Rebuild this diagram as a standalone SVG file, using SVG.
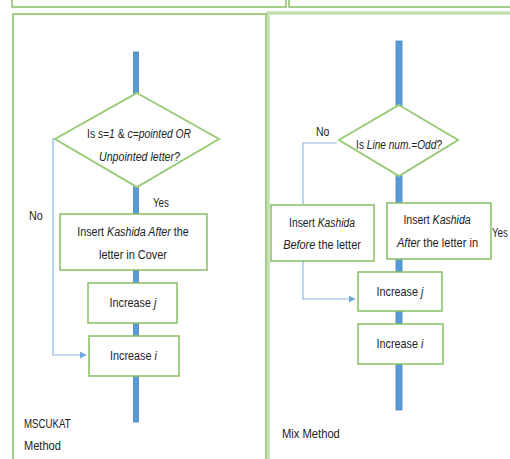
<svg xmlns="http://www.w3.org/2000/svg" width="510" height="459" viewBox="0 0 510 459">
<style>
text{font-family:"Liberation Sans",Arial,sans-serif;font-size:13.5px;fill:#222}
.m{text-anchor:middle}
.i{font-style:italic}
.panel{fill:none;stroke:#86BE63;stroke-width:1.5}
.box{fill:#fff;stroke:#86BE63;stroke-width:1.5}
.dia{fill:#fff;stroke:#9ACB78;stroke-width:2}
.bar{fill:#5B9BD5;stroke:#4A86BE;stroke-width:0.8}
.conn{fill:none;stroke:#8DB8E2;stroke-width:1.2}
</style>
<defs>
<marker id="ah" viewBox="0 0 10 10" refX="9" refY="5" markerWidth="7" markerHeight="7" orient="auto" markerUnits="userSpaceOnUse">
<path d="M0,0 L10,5 L0,10 z" fill="#6FA7DC"/>
</marker>
</defs>
<rect width="510" height="459" fill="#fff"/>
<g id="frames">
<rect class="panel" x="12" y="-10" width="274" height="17"/>
<rect class="panel" x="289" y="-10" width="240" height="17"/>
<rect class="panel" x="13" y="14" width="253" height="460"/>
<rect x="268" y="13" width="260" height="460" fill="none" stroke="#A9D18E" stroke-width="3"/>
<rect x="268" y="13" width="260" height="460" fill="none" stroke="#EAF4E2" stroke-width="0.8"/>
</g>
<g id="connectors">
<rect class="bar" x="133.5" y="52" width="5" height="370"/>
<rect class="bar" x="396" y="41" width="6" height="369"/>
<polyline class="conn" points="55,139 53,139 53,355 86,355" marker-end="url(#ah)"/>
<polyline class="conn" points="337,143 303,143 303,204"/>
<polyline class="conn" points="303,261 303,299 355,299" marker-end="url(#ah)"/>
</g>
<g id="left-decision">
<polygon class="dia" points="137,93 219,139 137,187 55,139"/>
<text class="m" transform="translate(139,138) scale(0.766,1)">Is <tspan class="i">s=1</tspan> &amp; <tspan class="i">c=pointed OR</tspan></text>
<text class="m i" transform="translate(139.5,161) scale(0.788,1)">Unpointed letter?</text>
</g>
<g id="left-labels">
<text transform="translate(153,207) scale(0.72,1)">Yes</text>
<text transform="translate(29,220) scale(0.8,1)">No</text>
<text transform="translate(24,428) scale(0.72,1)">MSCUKAT</text>
<text transform="translate(24,450) scale(0.82,1)">Method</text>
</g>
<g id="left-insert">
<rect class="box" x="60" y="214" width="147" height="56"/>
<text class="m" transform="translate(133,236) scale(0.794,1)">Insert <tspan class="i">Kashida After</tspan> the</text>
<text class="m" transform="translate(133,259) scale(0.81,1)">letter in Cover</text>
</g>
<g id="left-inc-j">
<rect class="box" x="88" y="283" width="89" height="40"/>
<text class="m" transform="translate(133,307) scale(0.8,1)">Increase <tspan class="i">j</tspan></text>
</g>
<g id="left-inc-i">
<rect class="box" x="89" y="336" width="90" height="40"/>
<text class="m" transform="translate(133.5,360) scale(0.8,1)">Increase <tspan class="i">i</tspan></text>
</g>
<g id="right-decision">
<polygon class="dia" points="399,105 458,140 399,176 339,140"/>
<text class="m" transform="translate(399,149) scale(0.75,1)">Is <tspan class="i">Line num.=Odd?</tspan></text>
</g>
<g id="right-before">
<rect class="box" x="271" y="205" width="103" height="56"/>
<text class="m" transform="translate(322,227) scale(0.765,1)">Insert <tspan class="i">Kashida</tspan></text>
<text class="m" transform="translate(322,249) scale(0.81,1)"><tspan class="i">Before</tspan> the letter</text>
</g>
<g id="right-after">
<rect class="box" x="387" y="203" width="104" height="56"/>
<text class="m" transform="translate(437,224) scale(0.78,1)">Insert <tspan class="i">Kashida</tspan></text>
<text class="m" transform="translate(437.5,247) scale(0.82,1)"><tspan class="i">After</tspan> the letter in</text>
</g>
<g id="right-inc-j">
<rect class="box" x="358" y="272" width="84" height="39"/>
<text class="m" transform="translate(400,296) scale(0.8,1)">Increase <tspan class="i">j</tspan></text>
</g>
<g id="right-inc-i">
<rect class="box" x="358" y="324" width="85" height="40"/>
<text class="m" transform="translate(400,348) scale(0.8,1)">Increase <tspan class="i">i</tspan></text>
</g>
<g id="right-labels">
<text transform="translate(316,136) scale(0.78,1)">No</text>
<text transform="translate(492,237) scale(0.72,1)">Yes</text>
<text transform="translate(282,438) scale(0.83,1)">Mix Method</text>
</g>
</svg>
